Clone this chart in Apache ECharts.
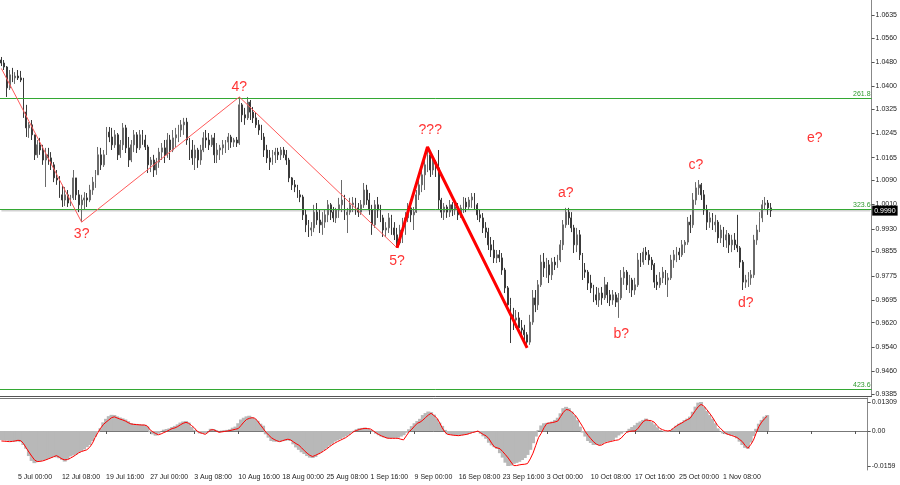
<!DOCTYPE html>
<html>
<head>
<meta charset="utf-8">
<script src="https://cdn.jsdelivr.net/npm/echarts@6/dist/echarts.min.js"></script>
<style>
html,body{margin:0;padding:0;background:#fff;}
#chart{width:900px;height:485px;}
</style>
</head>
<body>
<div id="chart"></div>
<script>
// ---- time axis (8h bars) ----
const categoryCount = 315;
const categories = Array.from({length: categoryCount}, (_, i) => String(i));
const timeTickLabels = ['5 Jul 00:00','12 Jul 08:00','19 Jul 16:00','27 Jul 00:00','3 Aug 08:00','10 Aug 16:00','18 Aug 00:00','25 Aug 08:00','1 Sep 16:00','9 Sep 00:00','16 Sep 08:00','23 Sep 16:00','3 Oct 00:00','10 Oct 08:00','17 Oct 16:00','25 Oct 00:00','1 Nov 08:00'];
const firstTickIndex = 6;
const tickEvery = 16;

// ---- price axis ticks ----
const priceTickLabels = ['1.0635','1.0560','1.0480','1.0400','1.0325','1.0245','1.0165','1.0090','1.0010','0.9930','0.9855','0.9775','0.9695','0.9620','0.9540','0.9460','0.9385'];
const oscTickLabels = ['0.01309','0.00','-0.0159'];

// ---- OHLC ----
const priceOpen = [1.0487,1.0477,1.0464,1.0395,1.0438,1.0428,1.0434,1.0428,1.0421,1.0315,
1.0263,1.0273,1.0240,1.0174,1.0207,1.0190,1.0157,1.0174,1.0164,1.0141,
1.0098,1.0091,1.0042,1.0025,1.0042,1.0015,1.0032,1.0098,1.0042,1.0009,
1.0025,1.0032,1.0025,1.0058,1.0084,1.0108,1.0174,1.0141,1.0174,1.0249,
1.0233,1.0207,1.0240,1.0174,1.0207,1.0263,1.0197,1.0157,1.0207,1.0240,
1.0197,1.0240,1.0223,1.0200,1.0141,1.0157,1.0124,1.0150,1.0183,1.0197,
1.0174,1.0223,1.0190,1.0230,1.0240,1.0256,1.0273,1.0282,1.0223,1.0190,
1.0164,1.0190,1.0157,1.0190,1.0230,1.0223,1.0207,1.0230,1.0174,1.0190,
1.0197,1.0207,1.0216,1.0233,1.0216,1.0223,1.0213,1.0339,1.0306,1.0296,
1.0348,1.0315,1.0296,1.0273,1.0256,1.0233,1.0190,1.0164,1.0150,1.0174,
1.0183,1.0174,1.0190,1.0174,1.0157,1.0098,1.0075,1.0068,1.0042,1.0035,
0.9976,0.9943,0.9926,0.9933,0.9985,0.9959,0.9943,0.9952,0.9976,1.0009,
0.9985,0.9966,0.9992,1.0009,1.0025,0.9976,0.9985,1.0009,1.0015,0.9999,
0.9985,1.0009,1.0058,1.0025,0.9992,0.9943,1.0009,0.9992,0.9966,0.9926,
0.9933,0.9966,0.9933,0.9910,0.9883,0.9926,0.9943,0.9966,0.9999,0.9976,
0.9985,1.0042,1.0075,1.0108,1.0141,1.0174,1.0124,1.0150,1.0131,1.0025,
0.9985,1.0002,0.9985,1.0009,0.9992,1.0002,0.9976,0.9999,1.0018,1.0002,
1.0025,1.0035,1.0009,0.9976,0.9966,0.9933,0.9919,0.9877,0.9860,0.9834,
0.9844,0.9834,0.9794,0.9735,0.9679,0.9646,0.9629,0.9636,0.9603,0.9596,
0.9580,0.9556,0.9622,0.9702,0.9679,0.9745,0.9820,0.9801,0.9811,0.9778,
0.9820,0.9811,0.9827,0.9877,0.9943,0.9985,0.9966,0.9933,0.9877,0.9910,
0.9844,0.9794,0.9787,0.9751,0.9735,0.9712,0.9695,0.9718,0.9702,0.9745,
0.9712,0.9695,0.9712,0.9688,0.9702,0.9768,0.9787,0.9745,0.9761,0.9728,
0.9745,0.9827,0.9820,0.9853,0.9844,0.9827,0.9811,0.9754,0.9745,0.9768,
0.9787,0.9761,0.9768,0.9827,0.9844,0.9853,0.9844,0.9877,0.9886,0.9952,
0.9943,1.0025,1.0065,1.0075,1.0042,0.9992,0.9952,0.9966,0.9943,0.9952,
0.9900,0.9926,0.9893,0.9910,0.9877,0.9893,0.9877,0.9867,0.9820,0.9754,
0.9761,0.9768,0.9778,0.9893,0.9926,0.9966,1.0009,1.0015,0.9999];
const priceClose = [1.0477,1.0464,1.0395,1.0438,1.0428,1.0434,1.0428,1.0421,1.0315,1.0263,
1.0273,1.0240,1.0174,1.0207,1.0190,1.0157,1.0174,1.0164,1.0141,1.0098,
1.0091,1.0042,1.0025,1.0042,1.0015,1.0032,1.0098,1.0042,1.0009,1.0025,
1.0032,1.0025,1.0058,1.0084,1.0108,1.0174,1.0141,1.0174,1.0249,1.0233,
1.0207,1.0240,1.0174,1.0207,1.0263,1.0197,1.0157,1.0207,1.0240,1.0197,
1.0240,1.0223,1.0200,1.0141,1.0157,1.0124,1.0150,1.0183,1.0197,1.0174,
1.0223,1.0190,1.0230,1.0240,1.0256,1.0273,1.0282,1.0223,1.0190,1.0164,
1.0190,1.0157,1.0190,1.0230,1.0223,1.0207,1.0230,1.0174,1.0190,1.0197,
1.0207,1.0216,1.0233,1.0216,1.0223,1.0213,1.0339,1.0306,1.0296,1.0348,
1.0315,1.0296,1.0273,1.0256,1.0233,1.0190,1.0164,1.0150,1.0174,1.0183,
1.0174,1.0190,1.0174,1.0157,1.0098,1.0075,1.0068,1.0042,1.0035,0.9976,
0.9943,0.9926,0.9933,0.9985,0.9959,0.9943,0.9952,0.9976,1.0009,0.9985,
0.9966,0.9992,1.0009,1.0025,0.9976,0.9985,1.0009,1.0015,0.9999,0.9985,
1.0009,1.0058,1.0025,0.9992,0.9943,1.0009,0.9992,0.9966,0.9926,0.9933,
0.9966,0.9933,0.9910,0.9883,0.9926,0.9943,0.9966,0.9999,0.9976,0.9985,
1.0042,1.0075,1.0108,1.0141,1.0174,1.0124,1.0150,1.0131,1.0025,0.9985,
1.0002,0.9985,1.0009,0.9992,1.0002,0.9976,0.9999,1.0018,1.0002,1.0025,
1.0035,1.0009,0.9976,0.9966,0.9933,0.9919,0.9877,0.9860,0.9834,0.9844,
0.9834,0.9794,0.9735,0.9679,0.9646,0.9629,0.9636,0.9603,0.9596,0.9580,
0.9556,0.9622,0.9702,0.9679,0.9745,0.9820,0.9801,0.9811,0.9778,0.9820,
0.9811,0.9827,0.9877,0.9943,0.9985,0.9966,0.9933,0.9877,0.9910,0.9844,
0.9794,0.9787,0.9751,0.9735,0.9712,0.9695,0.9718,0.9702,0.9745,0.9712,
0.9695,0.9712,0.9688,0.9702,0.9768,0.9787,0.9745,0.9761,0.9728,0.9745,
0.9827,0.9820,0.9853,0.9844,0.9827,0.9811,0.9754,0.9745,0.9768,0.9787,
0.9761,0.9768,0.9827,0.9844,0.9853,0.9844,0.9877,0.9886,0.9952,0.9943,
1.0025,1.0065,1.0075,1.0042,0.9992,0.9952,0.9966,0.9943,0.9952,0.9900,
0.9926,0.9893,0.9910,0.9877,0.9893,0.9877,0.9867,0.9820,0.9754,0.9761,
0.9768,0.9778,0.9893,0.9926,0.9966,1.0009,1.0015,0.9999,0.9990];
const priceLow = [1.0467,1.0454,1.0365,1.0388,1.0414,1.0408,1.0421,1.0414,1.0296,1.0233,
1.0230,1.0223,1.0157,1.0164,1.0174,1.0141,1.0068,1.0141,1.0124,1.0084,
1.0075,1.0032,1.0002,1.0005,1.0002,1.0005,1.0025,1.0025,0.9985,0.9952,
0.9992,1.0002,1.0018,1.0042,1.0065,1.0108,1.0124,1.0134,1.0174,1.0216,
1.0190,1.0197,1.0157,1.0164,1.0190,1.0180,1.0134,1.0150,1.0183,1.0180,
1.0190,1.0207,1.0190,1.0114,1.0117,1.0101,1.0108,1.0131,1.0157,1.0147,
1.0164,1.0157,1.0183,1.0200,1.0216,1.0233,1.0240,1.0207,1.0157,1.0141,
1.0124,1.0131,1.0141,1.0183,1.0197,1.0190,1.0200,1.0147,1.0147,1.0157,
1.0174,1.0180,1.0190,1.0197,1.0200,1.0200,1.0207,1.0282,1.0273,1.0289,
1.0289,1.0279,1.0263,1.0240,1.0223,1.0167,1.0147,1.0124,1.0141,1.0147,
1.0157,1.0157,1.0164,1.0141,1.0084,1.0058,1.0051,1.0032,1.0018,0.9959,
0.9919,0.9903,0.9906,0.9919,0.9943,0.9916,0.9910,0.9933,0.9952,0.9959,
0.9952,0.9949,0.9966,0.9985,0.9959,0.9916,0.9976,0.9985,0.9976,0.9969,
0.9976,0.9999,1.0009,0.9976,0.9910,0.9933,0.9966,0.9952,0.9903,0.9903,
0.9916,0.9910,0.9893,0.9867,0.9877,0.9883,0.9910,0.9952,0.9952,0.9926,
0.9982,1.0025,1.0051,1.0058,1.0117,1.0101,1.0108,1.0101,0.9992,0.9966,
0.9959,0.9966,0.9969,0.9972,0.9976,0.9959,0.9966,0.9982,0.9985,0.9992,
0.9999,0.9992,0.9959,0.9952,0.9916,0.9900,0.9860,0.9837,0.9817,0.9817,
0.9820,0.9778,0.9718,0.9662,0.9553,0.9596,0.9603,0.9589,0.9573,0.9563,
0.9537,0.9547,0.9613,0.9655,0.9662,0.9738,0.9771,0.9768,0.9751,0.9761,
0.9794,0.9801,0.9820,0.9860,0.9933,0.9943,0.9919,0.9850,0.9853,0.9827,
0.9761,0.9768,0.9728,0.9718,0.9688,0.9679,0.9672,0.9679,0.9695,0.9685,
0.9675,0.9679,0.9672,0.9636,0.9695,0.9745,0.9728,0.9718,0.9705,0.9712,
0.9738,0.9804,0.9811,0.9827,0.9811,0.9794,0.9735,0.9728,0.9735,0.9751,
0.9745,0.9705,0.9761,0.9801,0.9820,0.9827,0.9837,0.9850,0.9877,0.9916,
0.9933,1.0009,1.0042,1.0025,0.9976,0.9926,0.9933,0.9926,0.9919,0.9883,
0.9883,0.9870,0.9867,0.9850,0.9853,0.9860,0.9853,0.9801,0.9728,0.9735,
0.9738,0.9745,0.9768,0.9877,0.9919,0.9952,0.9992,0.9976,0.9969];
const priceHigh = [1.0497,1.0487,1.0467,1.0454,1.0461,1.0447,1.0454,1.0451,1.0428,1.0339,
1.0282,1.0289,1.0240,1.0223,1.0230,1.0207,1.0197,1.0197,1.0183,1.0150,
1.0124,1.0104,1.0075,1.0068,1.0058,1.0042,1.0124,1.0098,1.0058,1.0042,
1.0051,1.0048,1.0075,1.0101,1.0124,1.0200,1.0197,1.0190,1.0266,1.0266,
1.0263,1.0256,1.0246,1.0223,1.0279,1.0273,1.0233,1.0223,1.0256,1.0249,
1.0256,1.0256,1.0240,1.0207,1.0167,1.0174,1.0164,1.0197,1.0213,1.0223,
1.0246,1.0240,1.0256,1.0263,1.0273,1.0289,1.0296,1.0296,1.0230,1.0223,
1.0207,1.0197,1.0207,1.0249,1.0256,1.0246,1.0240,1.0246,1.0213,1.0207,
1.0223,1.0223,1.0246,1.0240,1.0230,1.0233,1.0365,1.0345,1.0329,1.0365,
1.0355,1.0332,1.0315,1.0289,1.0273,1.0246,1.0207,1.0190,1.0190,1.0197,
1.0197,1.0200,1.0200,1.0190,1.0164,1.0101,1.0091,1.0075,1.0058,1.0042,
0.9992,0.9959,0.9952,1.0009,1.0015,0.9992,0.9985,0.9992,1.0025,1.0015,
1.0002,0.9999,1.0032,1.0091,1.0042,0.9999,1.0032,1.0035,1.0032,1.0015,
1.0025,1.0081,1.0075,1.0048,1.0009,1.0025,1.0035,1.0009,0.9976,0.9952,
0.9982,0.9976,0.9952,0.9933,0.9943,0.9966,0.9985,1.0015,1.0009,1.0002,
1.0058,1.0091,1.0124,1.0167,1.0197,1.0180,1.0164,1.0157,1.0190,1.0032,
1.0015,1.0009,1.0025,1.0018,1.0025,1.0015,1.0009,1.0035,1.0032,1.0035,
1.0048,1.0048,1.0015,0.9992,0.9982,0.9952,0.9933,0.9903,0.9893,0.9860,
0.9860,0.9850,0.9801,0.9741,0.9702,0.9669,0.9662,0.9655,0.9629,0.9613,
0.9589,0.9646,0.9728,0.9728,0.9761,0.9844,0.9850,0.9834,0.9827,0.9834,
0.9837,0.9844,0.9893,0.9959,0.9999,0.9999,0.9985,0.9943,0.9933,0.9926,
0.9850,0.9817,0.9794,0.9778,0.9745,0.9738,0.9735,0.9738,0.9771,0.9754,
0.9728,0.9728,0.9721,0.9718,0.9794,0.9804,0.9794,0.9778,0.9768,0.9768,
0.9850,0.9850,0.9867,0.9870,0.9860,0.9837,0.9817,0.9778,0.9787,0.9804,
0.9794,0.9784,0.9844,0.9860,0.9870,0.9867,0.9893,0.9893,0.9969,0.9976,
1.0048,1.0084,1.0091,1.0081,1.0058,1.0009,0.9985,0.9982,0.9976,0.9959,
0.9943,0.9936,0.9926,0.9916,0.9910,0.9916,0.9976,0.9873,0.9827,0.9778,
0.9787,0.9794,0.9910,0.9943,0.9985,1.0025,1.0035,1.0025,1.0015];

// ---- oscillator ----
const oscHist = [-0.0041,-0.0042,-0.0043,-0.0045,-0.0046,-0.0047,-0.0047,-0.0050,-0.0063,-0.0080,
-0.0113,-0.0135,-0.0145,-0.0140,-0.0135,-0.0133,-0.0131,-0.0126,-0.0120,-0.0116,
-0.0119,-0.0123,-0.0130,-0.0138,-0.0128,-0.0115,-0.0110,-0.0106,-0.0098,-0.0090,
-0.0083,-0.0073,-0.0063,-0.0045,-0.0026,-0.0005,0.0013,0.0039,0.0055,0.0067,
0.0073,0.0072,0.0066,0.0061,0.0057,0.0052,0.0044,0.0036,0.0033,0.0032,
0.0030,0.0029,0.0028,0.0020,-0.0005,-0.0015,-0.0021,-0.0012,0.0000,0.0006,
0.0009,0.0012,0.0018,0.0023,0.0030,0.0038,0.0043,0.0045,0.0038,0.0018,
0.0005,-0.0004,-0.0011,-0.0011,-0.0011,0.0000,0.0010,0.0009,0.0004,0.0000,
0.0002,0.0004,0.0005,0.0008,0.0015,0.0020,0.0035,0.0052,0.0060,0.0066,
0.0069,0.0062,0.0055,0.0046,0.0033,0.0024,-0.0015,-0.0030,-0.0045,-0.0048,
-0.0048,-0.0048,-0.0046,-0.0044,-0.0042,-0.0045,-0.0060,-0.0074,-0.0085,-0.0096,
-0.0104,-0.0113,-0.0120,-0.0122,-0.0117,-0.0105,-0.0096,-0.0086,-0.0078,-0.0067,
-0.0058,-0.0048,-0.0042,-0.0036,-0.0030,-0.0024,-0.0017,-0.0008,0.0001,0.0008,
0.0013,0.0014,0.0015,0.0010,0.0005,-0.0004,-0.0012,-0.0019,-0.0025,-0.0029,
-0.0032,-0.0033,-0.0032,-0.0031,-0.0030,-0.0025,-0.0019,-0.0008,0.0008,0.0022,
0.0035,0.0045,0.0055,0.0072,0.0081,0.0088,0.0085,0.0074,0.0055,0.0038,
0.0023,0.0005,-0.0015,-0.0017,-0.0018,-0.0020,-0.0021,-0.0019,-0.0017,-0.0015,
-0.0011,-0.0007,-0.0003,0.0000,-0.0012,-0.0024,-0.0035,-0.0053,-0.0065,-0.0073,
-0.0081,-0.0100,-0.0120,-0.0143,-0.0158,-0.0156,-0.0148,-0.0144,-0.0139,-0.0131,
-0.0122,-0.0108,-0.0085,-0.0055,-0.0025,0.0004,0.0025,0.0035,0.0037,0.0039,
0.0043,0.0050,0.0060,0.0080,0.0103,0.0109,0.0103,0.0088,0.0070,0.0049,
0.0020,-0.0007,-0.0025,-0.0045,-0.0054,-0.0063,-0.0063,-0.0063,-0.0059,-0.0052,
-0.0048,-0.0045,-0.0041,-0.0030,-0.0020,-0.0012,-0.0005,0.0000,0.0010,0.0018,
0.0026,0.0037,0.0043,0.0050,0.0056,0.0050,0.0040,0.0030,0.0017,0.0005,
0.0000,-0.0005,-0.0003,0.0003,0.0012,0.0024,0.0033,0.0039,0.0049,0.0056,
0.0065,0.0087,0.0110,0.0128,0.0131,0.0108,0.0090,0.0072,0.0055,0.0035,
0.0012,0.0000,-0.0011,-0.0014,-0.0018,-0.0020,-0.0021,-0.0033,-0.0048,-0.0063,
-0.0076,-0.0080,-0.0052,-0.0023,0.0010,0.0033,0.0050,0.0065,0.0072];
const oscSignal = [-0.0045,-0.0046,-0.0047,-0.0048,-0.0047,-0.0045,-0.0042,-0.0043,-0.0056,-0.0076,
-0.0095,-0.0113,-0.0130,-0.0138,-0.0137,-0.0135,-0.0131,-0.0126,-0.0121,-0.0116,
-0.0111,-0.0118,-0.0126,-0.0130,-0.0129,-0.0123,-0.0116,-0.0108,-0.0099,-0.0093,
-0.0089,-0.0085,-0.0074,-0.0057,-0.0030,-0.0008,0.0012,0.0029,0.0040,0.0050,
0.0060,0.0064,0.0059,0.0054,0.0050,0.0045,0.0038,0.0032,0.0030,0.0029,
0.0028,0.0027,0.0027,0.0022,0.0005,-0.0004,-0.0011,-0.0017,-0.0013,-0.0007,
-0.0002,0.0005,0.0011,0.0014,0.0020,0.0028,0.0035,0.0039,0.0035,0.0025,
0.0015,0.0000,-0.0007,-0.0011,-0.0015,-0.0006,0.0005,0.0006,0.0000,-0.0006,
-0.0004,-0.0002,0.0000,0.0002,0.0005,0.0008,0.0011,0.0025,0.0040,0.0052,
0.0057,0.0060,0.0058,0.0045,0.0028,0.0012,-0.0005,-0.0018,-0.0030,-0.0038,
-0.0044,-0.0048,-0.0044,-0.0040,-0.0037,-0.0040,-0.0049,-0.0057,-0.0064,-0.0076,
-0.0089,-0.0100,-0.0110,-0.0115,-0.0110,-0.0104,-0.0098,-0.0090,-0.0082,-0.0072,
-0.0063,-0.0055,-0.0048,-0.0042,-0.0036,-0.0030,-0.0021,-0.0012,-0.0002,0.0003,
0.0007,0.0010,0.0012,0.0011,0.0009,0.0001,-0.0008,-0.0016,-0.0022,-0.0027,
-0.0032,-0.0033,-0.0033,-0.0033,-0.0033,-0.0037,-0.0040,-0.0022,-0.0004,0.0008,
0.0022,0.0035,0.0040,0.0049,0.0061,0.0072,0.0080,0.0070,0.0060,0.0040,
0.0015,-0.0005,-0.0015,-0.0017,-0.0019,-0.0020,-0.0021,-0.0019,-0.0017,-0.0015,
-0.0011,-0.0007,-0.0004,0.0000,-0.0008,-0.0016,-0.0022,-0.0035,-0.0055,-0.0072,
-0.0076,-0.0080,-0.0093,-0.0107,-0.0122,-0.0140,-0.0156,-0.0156,-0.0153,-0.0151,
-0.0150,-0.0147,-0.0126,-0.0100,-0.0065,-0.0030,-0.0010,0.0015,0.0034,0.0036,
0.0038,0.0041,0.0045,0.0065,0.0084,0.0097,0.0095,0.0087,0.0075,0.0060,
0.0040,0.0020,-0.0003,-0.0020,-0.0035,-0.0049,-0.0059,-0.0065,-0.0063,-0.0055,
-0.0051,-0.0048,-0.0045,-0.0042,-0.0040,-0.0032,-0.0018,-0.0006,-0.0002,0.0000,
0.0000,0.0010,0.0027,0.0042,0.0050,0.0048,0.0046,0.0040,0.0025,0.0012,
0.0006,0.0002,0.0000,0.0003,0.0013,0.0022,0.0030,0.0036,0.0044,0.0051,
0.0057,0.0075,0.0093,0.0110,0.0120,0.0113,0.0098,0.0082,0.0065,0.0045,
0.0025,0.0013,0.0000,-0.0011,-0.0016,-0.0020,-0.0024,-0.0029,-0.0038,-0.0048,
-0.0065,-0.0078,-0.0062,-0.0042,-0.0010,0.0020,0.0040,0.0055,0.0067];

// ---- levels & wave markup ----
const fibNames = ['261.8','323.6','423.6'];
const fibPrices = [1.0361, 0.9995, 0.9401];
const thinWaveX = [0, 29, 86, 143];
const thinWaveY = [1.0459, 0.9952, 1.0365, 0.9867];
const boldWaveX = [143, 154, 190];
const boldWaveY = [0.9867, 1.0200, 0.9537];
const waveLabels = ['3?','4?','5?','???','a?','b?','c?','d?','e?'];
const waveLabelX = [29, 86, 143, 155, 204, 224, 251, 269, 294];
const waveLabelY = [0.9913, 1.0398, 0.9824, 1.0256, 1.0048, 0.9583, 1.0141, 0.9685, 1.0230];

// ---- build ----
const candleData = priceOpen.map((o, i) => [o, priceClose[i], priceLow[i], priceHigh[i]]);
const lastPrice = priceClose[priceClose.length - 1];
const isTick = (idx) => idx >= firstTickIndex && (idx - firstTickIndex) % tickEvery === 0;
const axisFont = {fontFamily: 'Liberation Sans', fontSize: 7, color: '#222'};
const lastCat = categoryCount - 1;

const chart = echarts.init(document.getElementById('chart'), null, {renderer: 'canvas'});
chart.setOption({
  animation: false,
  backgroundColor: '#ffffff',
  grid: [
    {left: 0, right: 28, top: 0, height: 396},
    {left: 0, right: 28, top: 398, height: 72}
  ],
  xAxis: [
    {type: 'category', gridIndex: 0, data: categories, boundaryGap: true,
     axisLine: {show: true, lineStyle: {color: '#555', width: 1}},
     axisTick: {show: false}, axisLabel: {show: false}, splitLine: {show: false}},
    {type: 'category', gridIndex: 1, data: categories, boundaryGap: true, position: 'bottom',
     axisLine: {show: true, lineStyle: {color: '#777', width: 1}},
     axisTick: {show: true, alignWithLabel: true, interval: (i) => isTick(i), length: 3, lineStyle: {color: '#555'}},
     axisLabel: Object.assign({show: true, interval: (i) => isTick(i), align: 'left', margin: 4,
       formatter: (v, i) => timeTickLabels[(i - firstTickIndex) / tickEvery] || ''}, axisFont),
     splitLine: {show: false}},
    {type: 'category', gridIndex: 1, data: categories, boundaryGap: true, position: 'top',
     axisLine: {show: true, lineStyle: {color: '#777', width: 1}},
     axisTick: {show: false}, axisLabel: {show: false}}
  ],
  yAxis: [
    {type: 'value', gridIndex: 0, position: 'right', min: 0.93782, max: 1.0685,
     axisLine: {show: true, lineStyle: {color: '#888'}},
     axisTick: {show: true, length: 3, customValues: priceTickLabels.map(Number), lineStyle: {color: '#555'}},
     axisLabel: Object.assign({show: true, margin: 4, customValues: priceTickLabels.map(Number),
       formatter: (v) => v.toFixed(4)}, axisFont),
     splitLine: {show: false}},
    {type: 'value', gridIndex: 1, position: 'right', min: -0.0176, max: 0.0149,
     axisLine: {show: true, lineStyle: {color: '#888'}},
     axisTick: {show: true, length: 3, customValues: oscTickLabels.map(Number), lineStyle: {color: '#555'}},
     axisLabel: Object.assign({show: true, margin: 4, customValues: oscTickLabels.map(Number),
       formatter: (v) => oscTickLabels[oscTickLabels.map(Number).indexOf(v)] || ''}, axisFont),
     splitLine: {show: false}}
  ],
  series: [
    // bid price line + fibonacci levels
    {type: 'line', xAxisIndex: 0, yAxisIndex: 0, symbol: 'none', silent: true,
     data: [[0, lastPrice], [lastCat, lastPrice]],
     lineStyle: {color: '#d2d2d2', width: 2}, z: 1,
     endLabel: {show: true, formatter: lastPrice.toFixed(4), distance: 2,
       backgroundColor: '#000', color: '#fff', padding: [2, 2, 1, 2], fontSize: 7, fontFamily: 'Liberation Sans'},
     markLine: {silent: true, symbol: ['none', 'none'], animation: false, precision: 4,
       lineStyle: {color: '#33a833', width: 1, type: 'solid'},
       data: fibPrices.map((p, k) => ({yAxis: p,
         label: {show: true, position: 'insideEndTop', distance: [1, 1], formatter: fibNames[k],
           color: '#2f9a2f', fontSize: 7, fontFamily: 'Liberation Sans'}}))}},
    {type: 'candlestick', xAxisIndex: 0, yAxisIndex: 0, data: candleData, barMaxWidth: 2, z: 3,
     itemStyle: {color: '#6a6a6a', color0: '#3a3a3a', borderColor: '#6a6a6a', borderColor0: '#3a3a3a', borderWidth: 1}},
    {type: 'line', xAxisIndex: 0, yAxisIndex: 0, data: thinWaveX.map((x, k) => [x, thinWaveY[k]]),
     symbol: 'none', lineStyle: {color: '#ff5a5a', width: 1}, z: 5},
    {type: 'line', xAxisIndex: 0, yAxisIndex: 0, data: boldWaveX.map((x, k) => [x, boldWaveY[k]]),
     symbol: 'none', lineStyle: {color: '#ff0000', width: 3}, z: 5},
    {type: 'scatter', xAxisIndex: 0, yAxisIndex: 0, symbolSize: 2,
     itemStyle: {color: 'rgba(0,0,0,0)'},
     data: waveLabels.map((t, k) => ({value: [waveLabelX[k], waveLabelY[k]], name: t})),
     label: {show: true, position: 'inside', formatter: (p) => p.name, color: '#ff0000',
       fontSize: 14, fontFamily: 'Liberation Sans'}, z: 6},
    {type: 'bar', xAxisIndex: 1, yAxisIndex: 1, data: oscHist, barWidth: 4,
     itemStyle: {color: '#b8b8b8'}},
    {type: 'line', xAxisIndex: 1, yAxisIndex: 1, data: oscSignal, symbol: 'none',
     lineStyle: {color: '#ff0000', width: 1}, z: 4}
  ]
});
</script>
</body>
</html>
